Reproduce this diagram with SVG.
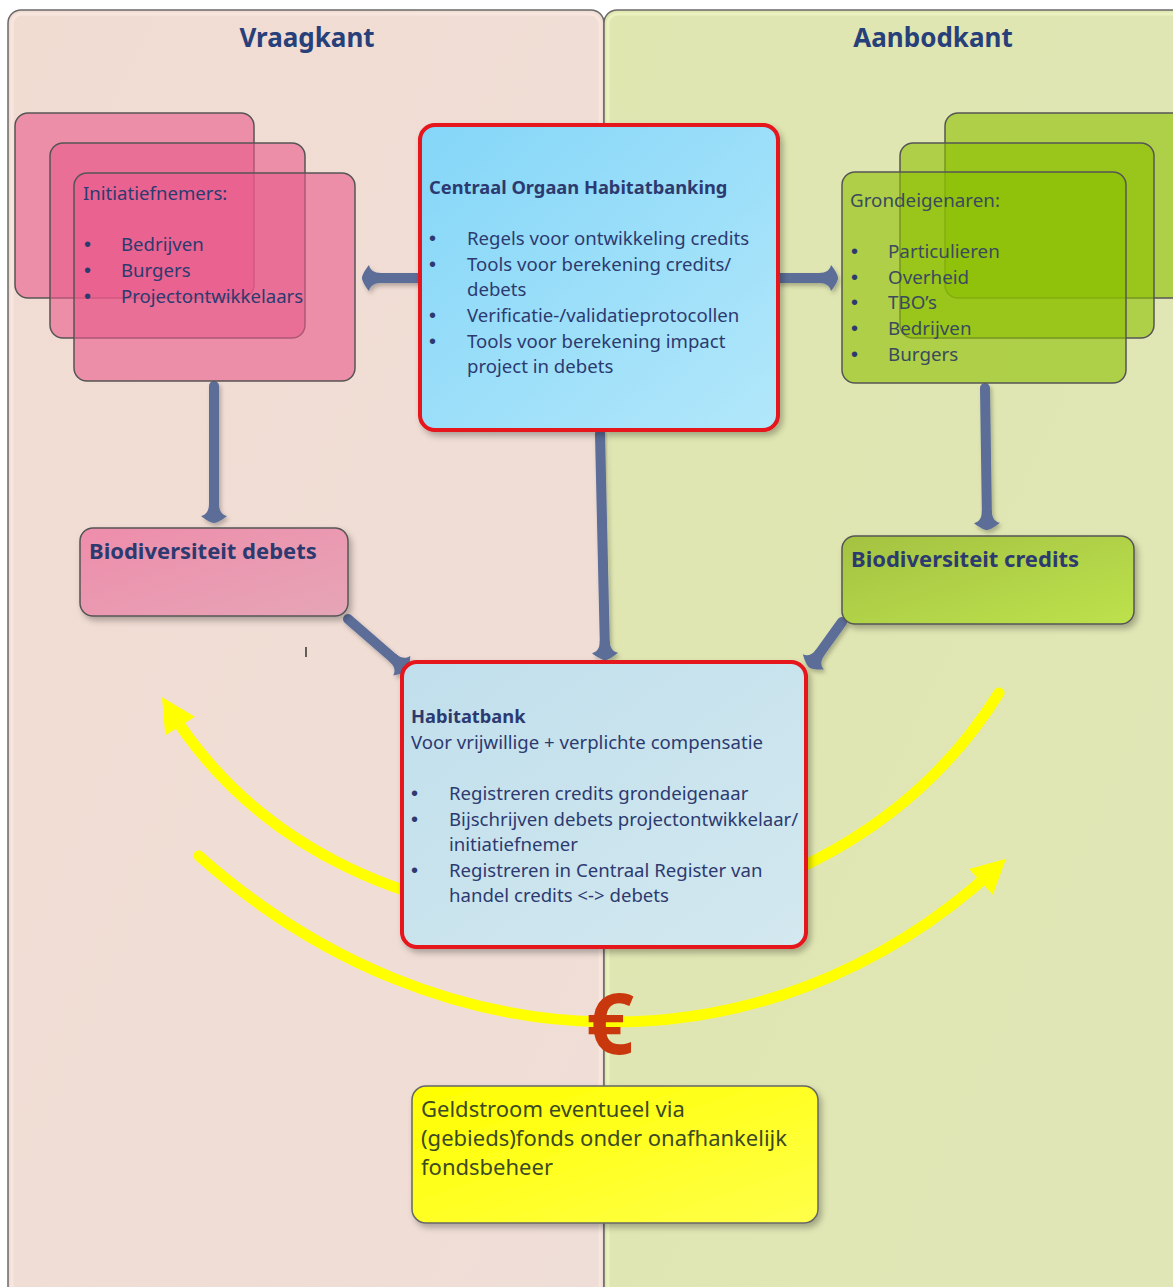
<svg xmlns="http://www.w3.org/2000/svg" width="1173" height="1287" viewBox="0 0 1173 1287">
<defs>
<style>
text{font-family:"Noto Sans","Liberation Sans",sans-serif;}
.hdr{font-size:26px;font-weight:bold;fill:#27407a;text-anchor:middle}
.body{font-size:18.6px;fill:#2c3a70}
.gbody{font-size:18.8px;fill:#3a4a5e}
.bul{font-family:"Liberation Sans",sans-serif;font-size:20px;fill:#2c3a70}
.gbul{font-family:"Liberation Sans",sans-serif;font-size:20px;fill:#2c3a70}
.btitle{font-size:18.3px;font-weight:bold;fill:#2c3a70}
.lbl{font-size:22px;font-weight:bold;fill:#2c3a70}
.ybody{font-size:22px;fill:#3c4a22}
.pinkst{fill:#ea5a8a;fill-opacity:0.6;stroke:#555;stroke-width:1.5}
.greenst{fill:#8cc000;fill-opacity:0.6;stroke:#555;stroke-width:1.5}
.conn{fill:none;stroke:#5b6d98;stroke-width:10;stroke-linecap:round}
.flow{fill:none;stroke:#ffff00;stroke-width:11;stroke-linecap:round}
.redbox{stroke:#e5121b;stroke-width:4}
.panel{stroke:#6a6a6a;stroke-width:1.5}
</style>
<linearGradient id="gL" x1="0" y1="0" x2="1" y2="1"><stop offset="0" stop-color="#f1dcd2"/><stop offset="1" stop-color="#efded7"/></linearGradient>
<linearGradient id="gR" x1="0" y1="0" x2="1" y2="1"><stop offset="0" stop-color="#e0e6b0"/><stop offset="1" stop-color="#e0e6b6"/></linearGradient>
<linearGradient id="gBlue" x1="0" y1="0" x2="1" y2="1"><stop offset="0" stop-color="#84d6f8"/><stop offset="1" stop-color="#b2e7fa"/></linearGradient>
<linearGradient id="gHab" x1="0" y1="0" x2="1" y2="1"><stop offset="0" stop-color="#c0dfec"/><stop offset="1" stop-color="#d3e8ef"/></linearGradient>
<linearGradient id="gDeb" x1="0" y1="0" x2="1" y2="1"><stop offset="0" stop-color="#ee8dab"/><stop offset="1" stop-color="#e6a5b7"/></linearGradient>
<linearGradient id="gCred" x1="0" y1="0" x2="1" y2="1"><stop offset="0" stop-color="#a4c242"/><stop offset="1" stop-color="#bde24c"/></linearGradient>
<linearGradient id="gYel" x1="0" y1="0" x2="1" y2="1"><stop offset="0" stop-color="#ffff00"/><stop offset="1" stop-color="#ffff4a"/></linearGradient>
<filter id="sh" x="-10%" y="-10%" width="125%" height="125%"><feDropShadow dx="3" dy="4" stdDeviation="3" flood-color="#000" flood-opacity="0.28"/></filter>
<filter id="csh" x="-20%" y="-20%" width="150%" height="150%"><feDropShadow dx="2" dy="3" stdDeviation="2" flood-color="#000" flood-opacity="0.25"/></filter>
<marker id="ah" markerUnits="userSpaceOnUse" viewBox="-16 -15 24 30" markerWidth="24" markerHeight="30" refX="-3" refY="0" orient="auto">
<path d="M-14,-5 C-7,-5 -3,-8 -2,-13 C2,-8 5,-3 5,0 C5,3 2,8 -2,13 C-3,8 -7,5 -14,5 Z" fill="#5b6d98"/>
</marker>
<marker id="yh" markerUnits="userSpaceOnUse" viewBox="-22 -20 40 40" markerWidth="40" markerHeight="40" refX="0" refY="0" orient="auto-start-reverse">
<path d="M15,0 L-19,-17.5 L-19,17.5 Z" fill="#ffff00"/>
</marker>
</defs>

<g id="vraagkant">
<rect class="panel" x="8" y="10" width="596" height="1290" rx="13" fill="url(#gL)"/>
<rect x="12" y="14" width="588" height="1282" rx="10" fill="none" stroke="#f8e6de" stroke-width="3"/>
<text class="hdr" x="307" y="47">Vraagkant</text>
</g>
<g id="aanbodkant">
<rect class="panel" x="604" y="10" width="590" height="1290" rx="13" fill="url(#gR)"/>
<rect x="608" y="14" width="582" height="1282" rx="10" fill="none" stroke="#eaf2c0" stroke-width="3"/>
<text class="hdr" x="933" y="47">Aanbodkant</text>
</g>

<g id="geldstromen">
<path class="flow" d="M170,710 C347,992 815,987 999,693" marker-start="url(#yh)"/>
<path class="flow" d="M199,856 C440,1070 765,1080 995,869" marker-end="url(#yh)"/>
</g>

<g id="connectors" filter="url(#csh)">
<line class="conn" x1="418" y1="278" x2="370" y2="278" marker-end="url(#ah)"/>
<line class="conn" x1="780" y1="278" x2="830" y2="278" marker-end="url(#ah)"/>
<line class="conn" x1="214" y1="386" x2="214" y2="515" marker-end="url(#ah)"/>
<line class="conn" x1="985" y1="388" x2="987" y2="522" marker-end="url(#ah)"/>
<line class="conn" x1="600" y1="434" x2="605" y2="652" marker-end="url(#ah)"/>
<line class="conn" x1="348" y1="619" x2="401" y2="665" marker-end="url(#ah)"/>
<line class="conn" x1="842" y1="622" x2="814" y2="661" marker-end="url(#ah)"/>
</g>

<g id="initiatiefnemers">
<rect class="pinkst" x="15" y="113" width="239" height="185" rx="13"/>
<rect class="pinkst" x="50" y="143" width="255" height="195" rx="13"/>
<rect class="pinkst" x="74" y="173" width="281" height="208" rx="13"/>
<text class="body" x="83" y="200">Initiatiefnemers:</text>
<text class="bul" x="84" y="251">•</text><text class="body" x="121" y="251">Bedrijven</text>
<text class="bul" x="84" y="277">•</text><text class="body" x="121" y="277">Burgers</text>
<text class="bul" x="84" y="303">•</text><text class="body" x="121" y="303">Projectontwikkelaars</text>
</g>

<g id="centraal-orgaan">
<rect class="redbox" x="420" y="125" width="358" height="305" rx="15" fill="url(#gBlue)" filter="url(#sh)"/>
<text class="btitle" x="429" y="194">Centraal Orgaan Habitatbanking</text>
<text class="bul" x="429" y="245">•</text><text class="body" x="467" y="245">Regels voor ontwikkeling credits</text>
<text class="bul" x="429" y="271">•</text><text class="body" x="467" y="271">Tools voor berekening credits/</text>
<text class="body" x="467" y="296">debets</text>
<text class="bul" x="429" y="322">•</text><text class="body" x="467" y="322">Verificatie-/validatieprotocollen</text>
<text class="bul" x="429" y="348">•</text><text class="body" x="467" y="348">Tools voor berekening impact</text>
<text class="body" x="467" y="373">project in debets</text>
</g>

<g id="grondeigenaren">
<rect class="greenst" x="945" y="113" width="245" height="185" rx="13"/>
<rect class="greenst" x="900" y="143" width="254" height="195" rx="13"/>
<rect class="greenst" x="842" y="172" width="284" height="211" rx="13"/>
<text class="gbody" x="850" y="207">Grondeigenaren:</text>
<text class="gbul" x="851" y="258">•</text><text class="gbody" x="888" y="258">Particulieren</text>
<text class="gbul" x="851" y="284">•</text><text class="gbody" x="888" y="284">Overheid</text>
<text class="gbul" x="851" y="309">•</text><text class="gbody" x="888" y="309">TBO’s</text>
<text class="gbul" x="851" y="335">•</text><text class="gbody" x="888" y="335">Bedrijven</text>
<text class="gbul" x="851" y="361">•</text><text class="gbody" x="888" y="361">Burgers</text>
</g>

<g id="biodiversiteit-debets">
<rect x="80" y="528" width="268" height="88" rx="13" fill="url(#gDeb)" stroke="#555" stroke-width="1.5" filter="url(#sh)"/>
<text class="lbl" x="89" y="559">Biodiversiteit debets</text>
</g>

<g id="biodiversiteit-credits">
<rect x="842" y="536" width="292" height="88" rx="13" fill="url(#gCred)" stroke="#555" stroke-width="1.5" filter="url(#sh)"/>
<text class="lbl" x="851" y="567" fill="#2c4060">Biodiversiteit credits</text>
</g>

<g id="cursor-mark">
<line x1="306" y1="647" x2="306" y2="657" stroke="#333" stroke-width="1.5"/>
</g>

<g id="habitatbank">
<rect class="redbox" x="402" y="662" width="404" height="285" rx="15" fill="url(#gHab)" filter="url(#sh)"/>
<text class="btitle" x="411" y="723">Habitatbank</text>
<text class="body" x="411" y="749">Voor vrijwillige + verplichte compensatie</text>
<text class="bul" x="411" y="800">•</text><text class="body" x="449" y="800">Registreren credits grondeigenaar</text>
<text class="bul" x="411" y="826">•</text><text class="body" x="449" y="826">Bijschrijven debets projectontwikkelaar/</text>
<text class="body" x="449" y="851">initiatiefnemer</text>
<text class="bul" x="411" y="877">•</text><text class="body" x="449" y="877">Registreren in Centraal Register van</text>
<text class="body" x="449" y="902">handel credits &lt;-&gt;  debets</text>
</g>

<g id="euro">
<text x="610" y="1054" font-size="84" font-weight="bold" fill="#c8380c" text-anchor="middle">€</text>
</g>

<g id="geldstroom">
<rect x="412" y="1086" width="406" height="137" rx="14" fill="url(#gYel)" stroke="#666" stroke-width="1.5" filter="url(#sh)"/>
<text class="ybody" x="421" y="1117">Geldstroom eventueel via</text>
<text class="ybody" x="421" y="1146">(gebieds)fonds onder onafhankelijk</text>
<text class="ybody" x="421" y="1175">fondsbeheer</text>
</g>
</svg>
